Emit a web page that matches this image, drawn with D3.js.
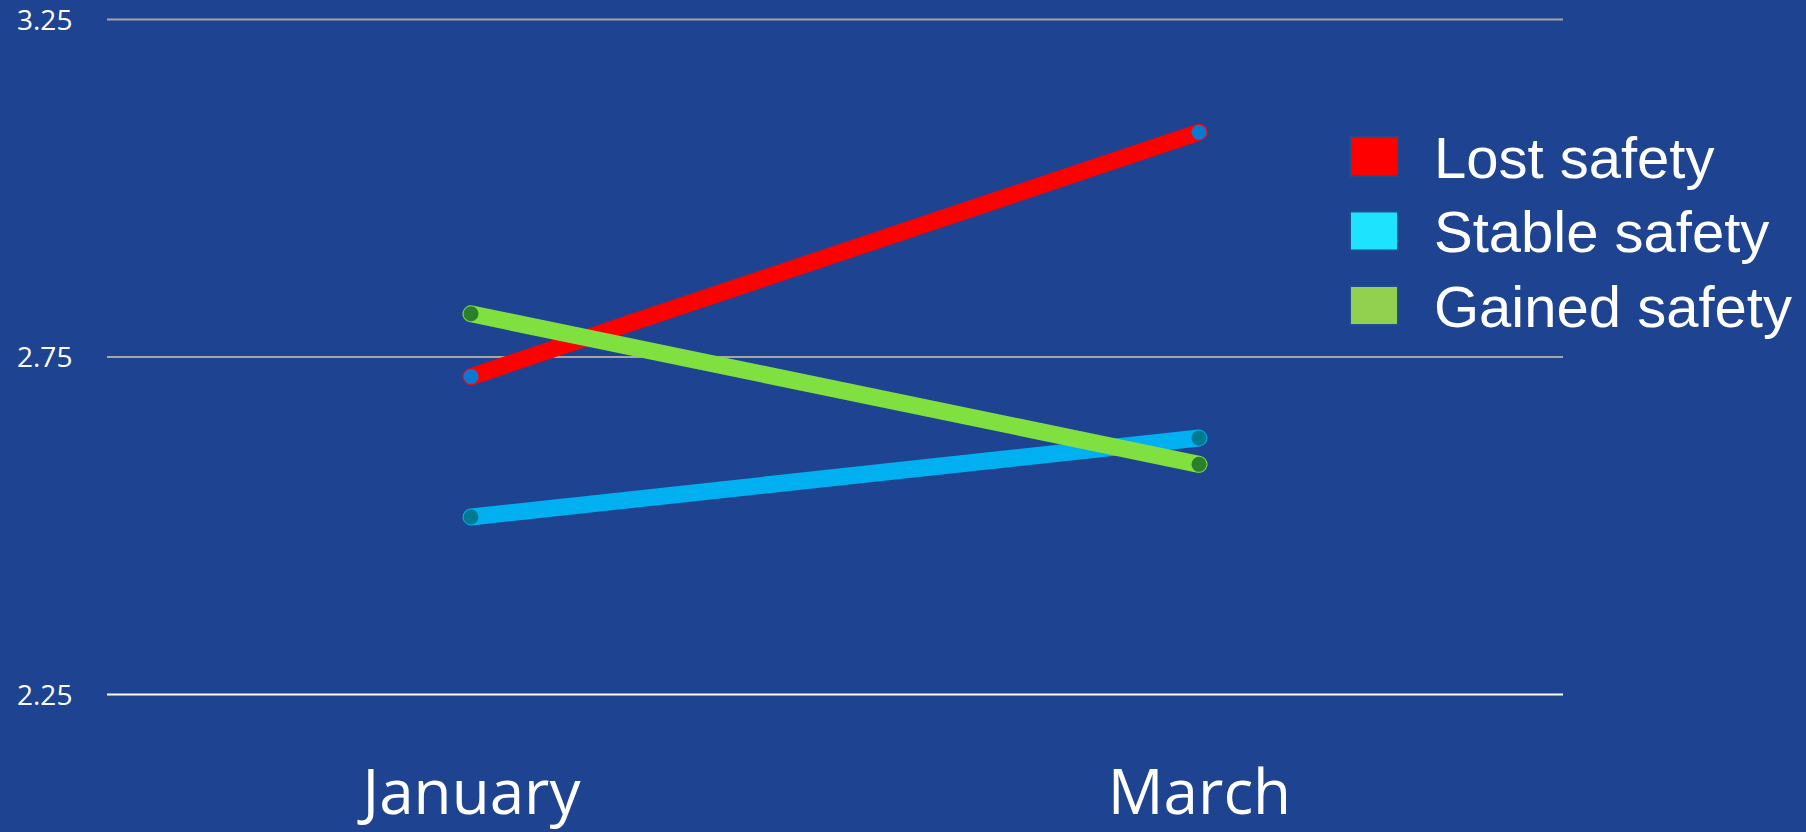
<!DOCTYPE html>
<html>
<head>
<meta charset="utf-8">
<script src="https://cdn.jsdelivr.net/npm/d3@7"></script>
<style>
  html, body { margin: 0; padding: 0; background: #1E4391; }
  svg { display: block; }
</style>
</head>
<body>
<svg id="chart"></svg>
<script>
var width = 1806;
var height = 832;

// data
var months = ["January", "March"];
var seriesNames = ["Lost safety", "Stable safety", "Gained safety"];
var lostValues = [2.721, 3.083];
var stableValues = [2.513, 2.630];
var gainedValues = [2.814, 2.591];
var yTicks = [2.25, 2.75, 3.25];

var lineColors = ["#FF0000", "#00B0F0", "#80E040"];
var markerColors = ["#0A78D2", "#007A8E", "#2A7F2C"];
var legendColors = ["#FF0000", "#1EE3FF", "#92D050"];

var series = [
  { name: seriesNames[0], values: lostValues },
  { name: seriesNames[1], values: stableValues },
  { name: seriesNames[2], values: gainedValues }
];

var plotLeft = 107, plotRight = 1563, plotTop = 19.5, plotBottom = 694.5;

var svg = d3.select("#chart")
    .attr("width", width)
    .attr("height", height);

svg.append("rect")
    .attr("width", width)
    .attr("height", height)
    .attr("fill", "#1E4391");

var xScale = d3.scalePoint()
    .domain(months)
    .range([plotLeft, plotRight])
    .padding(0.5);

var yScale = d3.scaleLinear()
    .domain([2.25, 3.25])
    .range([plotBottom, plotTop]);

// gridlines
svg.append("g")
  .selectAll("line")
  .data(yTicks)
  .enter()
  .append("line")
    .attr("x1", plotLeft)
    .attr("x2", plotRight)
    .attr("y1", function(d) { return yScale(d); })
    .attr("y2", function(d) { return yScale(d); })
    .attr("stroke", function(d, i) { return i === 0 ? "#FFFFFF" : "#A6A6A6"; })
    .attr("stroke-width", 2);

// y axis labels
var yAxis = d3.axisLeft(yScale)
    .tickValues(yTicks)
    .tickFormat(d3.format(".2f"))
    .tickSize(0);

var yG = svg.append("g")
    .attr("transform", "translate(17,0)")
    .call(yAxis);
yG.select(".domain").remove();
yG.selectAll("text")
    .attr("x", 0)
    .attr("dy", "0.35em")
    .attr("text-anchor", "start")
    .attr("fill", "#FFFFFF")
    .style("font-family", "'Open Sans', sans-serif")
    .style("font-size", "28px");

// x axis labels
var xAxis = d3.axisBottom(xScale).tickSize(0);
var xG = svg.append("g")
    .attr("transform", "translate(0,814)")
    .call(xAxis);
xG.select(".domain").remove();
xG.selectAll("text")
    .attr("y", 0)
    .attr("dy", 0)
    .attr("fill", "#FFFFFF")
    .style("font-family", "'Open Sans', sans-serif")
    .style("font-size", "62px");

// lines
var line = d3.line()
    .x(function(d, i) { return xScale(months[i]); })
    .y(function(d) { return yScale(d); });

var groups = svg.selectAll(".series")
    .data(series)
    .enter()
    .append("g")
    .attr("class", "series");

groups.append("path")
    .attr("d", function(d) { return line(d.values); })
    .attr("fill", "none")
    .attr("stroke", function(d, i) { return lineColors[i]; })
    .attr("stroke-width", 17)
    .attr("stroke-linecap", "round");

groups.each(function(s, si) {
  d3.select(this).selectAll("circle")
    .data(s.values)
    .enter()
    .append("circle")
      .attr("cx", function(d, i) { return xScale(months[i]); })
      .attr("cy", function(d) { return yScale(d); })
      .attr("r", 7.5)
      .attr("fill", markerColors[si]);
});

// legend
var legend = svg.append("g")
    .selectAll("g")
    .data(seriesNames)
    .enter()
    .append("g")
    .attr("transform", function(d, i) { return "translate(1350," + (156.5 + i * 74.5) + ")"; });

legend.append("rect")
    .attr("x", 0)
    .attr("y", -19.5)
    .attr("width", 48)
    .attr("height", 39)
    .attr("fill", function(d, i) { return legendColors[i]; })
    .attr("stroke", "#1F4E8C")
    .attr("stroke-width", 2);

legend.append("text")
    .attr("x", 84)
    .attr("y", 21)
    .attr("fill", "#FFFFFF")
    .style("font-family", "'Liberation Sans', Arial, sans-serif")
    .style("font-size", "58px")
    .text(function(d) { return d; });
</script>
</body>
</html>
